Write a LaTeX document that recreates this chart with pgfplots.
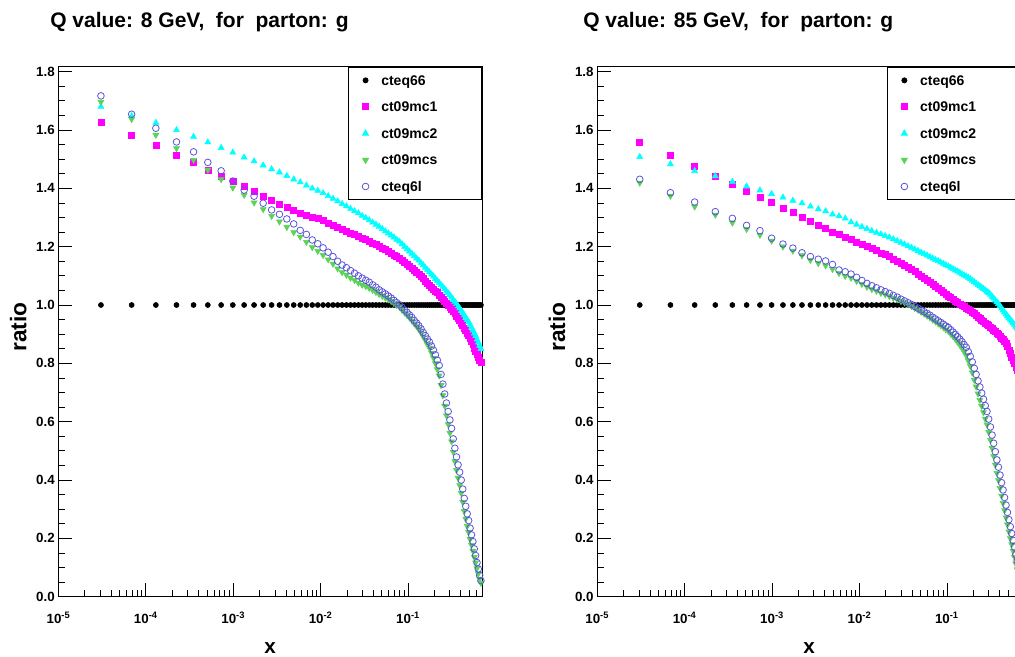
\documentclass[border=0pt]{standalone}
\usepackage{fontspec}
\setmainfont{Liberation Sans}
\usepackage{pgfplots}
\usepackage{pgfplotstable}
\pgfplotsset{compat=1.18}
\definecolor{rootmag}{rgb}{1,0,1}
\definecolor{rootcyan}{rgb}{0,1,1}
\definecolor{rootgreen}{rgb}{0.35,0.83,0.33}
\definecolor{rootblue}{rgb}{0.35,0.33,0.85}

\pgfplotstableread{
x c66 mc1 mc2 mcs c6l
3.06e-5 1 1.625 1.680 1.696 1.717
6.87e-5 1 1.582 1.648 1.637 1.654
1.30e-4 1 1.546 1.625 1.583 1.606
2.24e-4 1 1.514 1.600 1.537 1.559
3.51e-4 1 1.488 1.577 1.497 1.525
5.11e-4 1 1.463 1.558 1.463 1.489
7.26e-4 1 1.443 1.539 1.431 1.460
9.87e-4 1 1.424 1.523 1.402 1.425
0.001331 1 1.406 1.506 1.377 1.394
0.001728 1 1.389 1.493 1.351 1.373
0.002197 1 1.374 1.479 1.328 1.349
0.002744 1 1.360 1.466 1.305 1.326
0.003375 1 1.347 1.455 1.286 1.311
0.004096 1 1.336 1.443 1.267 1.295
0.004913 1 1.325 1.431 1.249 1.278
0.005832 1 1.315 1.421 1.234 1.256
0.006859 1 1.306 1.410 1.216 1.242
0.008000 1 1.300 1.400 1.198 1.223
0.009261 1 1.296 1.392 1.185 1.210
0.010648 1 1.289 1.384 1.171 1.196
0.012167 1 1.281 1.374 1.156 1.181
0.013824 1 1.273 1.365 1.141 1.166
0.015625 1 1.266 1.356 1.125 1.150
0.017576 1 1.260 1.347 1.112 1.137
0.019683 1 1.253 1.339 1.103 1.128
0.021952 1 1.247 1.330 1.093 1.118
0.024389 1 1.241 1.322 1.085 1.109
0.027000 1 1.236 1.315 1.076 1.100
0.029791 1 1.230 1.306 1.069 1.092
0.032768 1 1.224 1.299 1.064 1.085
0.035937 1 1.219 1.291 1.058 1.078
0.039304 1 1.213 1.283 1.051 1.069
0.042875 1 1.208 1.276 1.044 1.061
0.046656 1 1.203 1.269 1.037 1.052
0.050653 1 1.196 1.261 1.031 1.045
0.054872 1 1.190 1.253 1.025 1.038
0.059319 1 1.184 1.246 1.019 1.031
0.064000 1 1.178 1.239 1.013 1.024
0.068921 1 1.172 1.232 1.006 1.016
0.074088 1 1.166 1.224 0.999 1.008
0.079507 1 1.160 1.218 0.993 1.001
0.085184 1 1.153 1.209 0.983 0.992
0.091125 1 1.146 1.200 0.974 0.983
0.097336 1 1.139 1.192 0.965 0.975
0.103823 1 1.132 1.184 0.956 0.966
0.110592 1 1.125 1.176 0.946 0.957
0.117649 1 1.118 1.168 0.936 0.947
0.125000 1 1.112 1.160 0.927 0.938
0.132651 1 1.105 1.153 0.917 0.929
0.140608 1 1.098 1.144 0.905 0.918
0.148877 1 1.091 1.137 0.892 0.906
0.157464 1 1.083 1.128 0.879 0.895
0.166375 1 1.076 1.120 0.865 0.883
0.175616 1 1.069 1.113 0.853 0.873
0.185193 1 1.062 1.105 0.836 0.859
0.195112 1 1.055 1.098 0.819 0.845
0.205379 1 1.048 1.090 0.800 0.829
0.216000 1 1.042 1.083 0.779 0.811
0.226981 1 1.035 1.076 0.758 0.793
0.238328 1 1.028 1.069 0.725 0.762
0.250047 1 1.021 1.062 0.690 0.729
0.262144 1 1.014 1.055 0.654 0.695
0.274625 1 1.006 1.047 0.621 0.664
0.287496 1 1.000 1.041 0.591 0.635
0.300763 1 0.993 1.034 0.561 0.606
0.314432 1 0.985 1.026 0.532 0.577
0.328509 1 0.977 1.018 0.496 0.541
0.343000 1 0.970 1.011 0.464 0.509
0.357911 1 0.963 1.004 0.434 0.479
0.373248 1 0.955 0.996 0.407 0.452
0.389017 1 0.948 0.989 0.382 0.427
0.405224 1 0.939 0.981 0.355 0.400
0.421875 1 0.930 0.973 0.324 0.369
0.438976 1 0.921 0.965 0.293 0.337
0.456533 1 0.913 0.957 0.267 0.310
0.474552 1 0.904 0.949 0.242 0.284
0.493039 1 0.896 0.942 0.221 0.261
0.512000 1 0.886 0.933 0.197 0.235
0.531441 1 0.875 0.923 0.177 0.212
0.551368 1 0.864 0.913 0.157 0.189
0.571787 1 0.853 0.903 0.136 0.164
0.592704 1 0.842 0.894 0.117 0.141
0.614125 1 0.831 0.882 0.097 0.117
0.636056 1 0.821 0.872 0.079 0.095
0.658503 1 0.810 0.861 0.061 0.073
0.681472 1 0.802 0.850 0.047 0.055
}\tableA

\pgfplotstableread{
x c66 mc1 mc2 mcs c6l
3.06e-5 1 1.559 1.508 1.419 1.431
6.87e-5 1 1.512 1.483 1.374 1.385
1.30e-4 1 1.474 1.460 1.337 1.353
2.24e-4 1 1.442 1.442 1.309 1.320
3.51e-4 1 1.415 1.423 1.282 1.297
5.11e-4 1 1.391 1.407 1.260 1.273
7.26e-4 1 1.370 1.393 1.240 1.255
9.87e-4 1 1.351 1.381 1.220 1.229
0.001331 1 1.333 1.369 1.200 1.209
0.001728 1 1.317 1.358 1.186 1.195
0.002197 1 1.302 1.349 1.170 1.179
0.002744 1 1.288 1.338 1.154 1.166
0.003375 1 1.275 1.329 1.143 1.157
0.004096 1 1.264 1.322 1.135 1.151
0.004913 1 1.250 1.311 1.123 1.139
0.005832 1 1.241 1.305 1.109 1.120
0.006859 1 1.232 1.297 1.099 1.114
0.008000 1 1.224 1.284 1.093 1.106
0.009261 1 1.216 1.276 1.082 1.095
0.010648 1 1.208 1.268 1.072 1.084
0.012167 1 1.201 1.261 1.062 1.074
0.013824 1 1.193 1.254 1.054 1.066
0.015625 1 1.186 1.248 1.048 1.059
0.017576 1 1.179 1.243 1.041 1.052
0.019683 1 1.173 1.237 1.036 1.046
0.021952 1 1.166 1.232 1.030 1.040
0.024389 1 1.158 1.226 1.024 1.033
0.027000 1 1.151 1.220 1.019 1.027
0.029791 1 1.143 1.214 1.013 1.020
0.032768 1 1.136 1.208 1.008 1.014
0.035937 1 1.129 1.202 1.002 1.008
0.039304 1 1.121 1.197 0.996 1.002
0.042875 1 1.114 1.191 0.989 0.995
0.046656 1 1.106 1.186 0.983 0.989
0.050653 1 1.099 1.180 0.976 0.983
0.054872 1 1.092 1.175 0.970 0.977
0.059319 1 1.085 1.170 0.963 0.971
0.064000 1 1.079 1.165 0.957 0.965
0.068921 1 1.071 1.160 0.949 0.958
0.074088 1 1.064 1.155 0.943 0.952
0.079507 1 1.057 1.151 0.936 0.946
0.085184 1 1.050 1.146 0.930 0.940
0.091125 1 1.044 1.142 0.923 0.934
0.097336 1 1.037 1.137 0.916 0.928
0.103823 1 1.031 1.133 0.910 0.923
0.110592 1 1.025 1.128 0.901 0.915
0.117649 1 1.020 1.124 0.892 0.907
0.125000 1 1.014 1.119 0.883 0.899
0.132651 1 1.010 1.115 0.873 0.891
0.140608 1 1.004 1.111 0.863 0.883
0.148877 1 1.000 1.106 0.852 0.874
0.157464 1 0.995 1.102 0.839 0.864
0.166375 1 0.990 1.098 0.827 0.855
0.175616 1 0.985 1.094 0.809 0.840
0.185193 1 0.981 1.090 0.790 0.824
0.195112 1 0.975 1.084 0.768 0.805
0.205379 1 0.970 1.079 0.743 0.783
0.216000 1 0.964 1.074 0.720 0.762
0.226981 1 0.959 1.069 0.696 0.740
0.238328 1 0.954 1.065 0.674 0.719
0.250047 1 0.949 1.060 0.653 0.698
0.262144 1 0.944 1.055 0.632 0.677
0.274625 1 0.939 1.051 0.610 0.655
0.287496 1 0.934 1.046 0.590 0.635
0.300763 1 0.929 1.042 0.564 0.609
0.314432 1 0.924 1.036 0.537 0.582
0.328509 1 0.920 1.029 0.509 0.554
0.343000 1 0.915 1.023 0.481 0.526
0.357911 1 0.910 1.016 0.452 0.497
0.373248 1 0.904 1.010 0.424 0.469
0.389017 1 0.899 1.004 0.399 0.444
0.405224 1 0.892 0.997 0.372 0.417
0.421875 1 0.887 0.989 0.346 0.391
0.438976 1 0.881 0.982 0.321 0.366
0.456533 1 0.875 0.975 0.296 0.340
0.474552 1 0.869 0.968 0.271 0.314
0.493039 1 0.857 0.962 0.247 0.289
0.512000 1 0.845 0.956 0.223 0.264
0.531441 1 0.833 0.950 0.200 0.240
0.551368 1 0.822 0.944 0.179 0.217
0.571787 1 0.810 0.938 0.157 0.193
0.592704 1 0.799 0.933 0.136 0.170
0.614125 1 0.788 0.926 0.113 0.145
0.636056 1 0.777 0.920 0.093 0.123
0.658503 1 0.766 0.913 0.072 0.100
0.681472 1 0.755 0.907 0.052 0.078
}\tableB

\pgfplotsset{
  legend image code/.code={\pgfpathrectangle{\pgfpoint{-8pt}{-9.95pt}}{\pgfpoint{19.8pt}{19.9pt}}\pgfusepath{}\draw[#1] plot coordinates {(0pt,0pt)};},
}

\begin{document}
\begin{tikzpicture}
\useasboundingbox (0,0) rectangle (761.25pt,492.75pt);
\node[anchor=base west, font=\fontsize{15.75}{18}\selectfont\bfseries, inner sep=0pt] at (37.5pt,471.75pt) {Q value: 8 GeV,\ \ for\ \ parton: g};
\node[anchor=base west, font=\fontsize{15.75}{18}\selectfont\bfseries, inner sep=0pt] at (437.25pt,471.75pt) {Q value: 85 GeV,\ \ for\ \ parton: g};

\begin{axis}[at={(43.875pt,45.225pt)}, anchor=south west,
    scale only axis, width=317.6pt, height=397.5pt,
    xmode=log, xmin=1e-5, xmax=0.7, ymin=0, ymax=1.817,
    clip=false,
    xtick={1e-5,1e-4,1e-3,1e-2,1e-1},
    xticklabels={10\textsuperscript{-5},10\textsuperscript{-4},10\textsuperscript{-3},10\textsuperscript{-2},10\textsuperscript{-1}},
    minor xtick={2e-5,3e-5,4e-5,5e-5,6e-5,7e-5,8e-5,9e-5,2e-4,3e-4,4e-4,5e-4,6e-4,7e-4,8e-4,9e-4,2e-3,3e-3,4e-3,5e-3,6e-3,7e-3,8e-3,9e-3,2e-2,3e-2,4e-2,5e-2,6e-2,7e-2,8e-2,9e-2,0.2,0.3,0.4,0.5,0.6},
    ytick={0,0.2,0.4,0.6,0.8,1,1.2,1.4,1.6,1.8},
    yticklabels={0.0,0.2,0.4,0.6,0.8,1.0,1.2,1.4,1.6,1.8},
    minor y tick num=3,
    xtick pos=bottom, ytick pos=left, tick align=inside,
    major tick length=10.5pt, minor tick length=5.25pt,
    tick style={black, line width=0.6pt},
    axis line style={line width=0.6pt},
    xticklabel style={font=\fontsize{10}{11}\selectfont\bfseries, anchor=base, inner sep=0pt, yshift=-20pt},
    yticklabel style={font=\fontsize{10}{11}\selectfont\bfseries, anchor=east, inner sep=0pt, xshift=-2.6pt},
    xlabel={x}, ylabel={ratio},
    xlabel style={font=\fontsize{15.5}{17}\selectfont\bfseries, at={(axis description cs:0.5,-0.107)}, anchor=base},
    ylabel style={font=\fontsize{17}{19}\selectfont\bfseries, at={(axis description cs:-0.095,0.509)}, anchor=center},
    legend cell align=left,
    legend style={at={(1,1)}, anchor=north east, draw=black, line width=0.6pt, fill=white,
      inner xsep=4.5pt, inner ysep=0pt, row sep=0pt, column sep=0pt,
      font=\fontsize{10.5}{12}\selectfont\bfseries,
      nodes={draw=none, inner sep=0pt, text height=7.5pt, text depth=0pt, text width=70.7pt, align=left}},
  ]
\addplot[only marks, mark=*, black, mark size=1.9pt] table[x=x, y=c66] {\tableA};
\addplot[only marks, mark=square*, rootmag, mark size=2.25pt] table[x=x, y=mc1] {\tableA};
\addplot[only marks, mark=triangle*, rootcyan, mark size=2.6pt] table[x=x, y=mc2] {\tableA};
\addplot[only marks, mark=triangle*, rootgreen, mark size=2.6pt, mark options={rotate=180}] table[x=x, y=mcs] {\tableA};
\addplot[only marks, mark=o, rootblue, mark size=2.5pt, line width=0.6pt] table[x=x, y=c6l] {\tableA};
\legend{cteq66, ct09mc1, ct09mc2, ct09mcs, cteq6l}
\end{axis}

\begin{axis}[at={(447.98pt,45.225pt)}, anchor=south west,
    scale only axis, width=317.6pt, height=397.5pt,
    xmode=log, xmin=1e-5, xmax=0.7, ymin=0, ymax=1.817,
    clip=false,
    xtick={1e-5,1e-4,1e-3,1e-2,1e-1},
    xticklabels={10\textsuperscript{-5},10\textsuperscript{-4},10\textsuperscript{-3},10\textsuperscript{-2},10\textsuperscript{-1}},
    minor xtick={2e-5,3e-5,4e-5,5e-5,6e-5,7e-5,8e-5,9e-5,2e-4,3e-4,4e-4,5e-4,6e-4,7e-4,8e-4,9e-4,2e-3,3e-3,4e-3,5e-3,6e-3,7e-3,8e-3,9e-3,2e-2,3e-2,4e-2,5e-2,6e-2,7e-2,8e-2,9e-2,0.2,0.3,0.4,0.5,0.6},
    ytick={0,0.2,0.4,0.6,0.8,1,1.2,1.4,1.6,1.8},
    yticklabels={0.0,0.2,0.4,0.6,0.8,1.0,1.2,1.4,1.6,1.8},
    minor y tick num=3,
    xtick pos=bottom, ytick pos=left, tick align=inside,
    major tick length=10.5pt, minor tick length=5.25pt,
    tick style={black, line width=0.6pt},
    axis line style={line width=0.6pt},
    xticklabel style={font=\fontsize{10}{11}\selectfont\bfseries, anchor=base, inner sep=0pt, yshift=-20pt},
    yticklabel style={font=\fontsize{10}{11}\selectfont\bfseries, anchor=east, inner sep=0pt, xshift=-2.6pt},
    xlabel={x}, ylabel={ratio},
    xlabel style={font=\fontsize{15.5}{17}\selectfont\bfseries, at={(axis description cs:0.5,-0.107)}, anchor=base},
    ylabel style={font=\fontsize{17}{19}\selectfont\bfseries, at={(axis description cs:-0.095,0.509)}, anchor=center},
    legend cell align=left,
    legend style={at={(1,1)}, anchor=north east, draw=black, line width=0.6pt, fill=white,
      inner xsep=4.5pt, inner ysep=0pt, row sep=0pt, column sep=0pt,
      font=\fontsize{10.5}{12}\selectfont\bfseries,
      nodes={draw=none, inner sep=0pt, text height=7.5pt, text depth=0pt, text width=70.7pt, align=left}},
  ]
\addplot[only marks, mark=*, black, mark size=1.9pt] table[x=x, y=c66] {\tableB};
\addplot[only marks, mark=square*, rootmag, mark size=2.25pt] table[x=x, y=mc1] {\tableB};
\addplot[only marks, mark=triangle*, rootcyan, mark size=2.6pt] table[x=x, y=mc2] {\tableB};
\addplot[only marks, mark=triangle*, rootgreen, mark size=2.6pt, mark options={rotate=180}] table[x=x, y=mcs] {\tableB};
\addplot[only marks, mark=o, rootblue, mark size=2.5pt, line width=0.6pt] table[x=x, y=c6l] {\tableB};
\legend{cteq66, ct09mc1, ct09mc2, ct09mcs, cteq6l}
\end{axis}
\end{tikzpicture}
\end{document}
